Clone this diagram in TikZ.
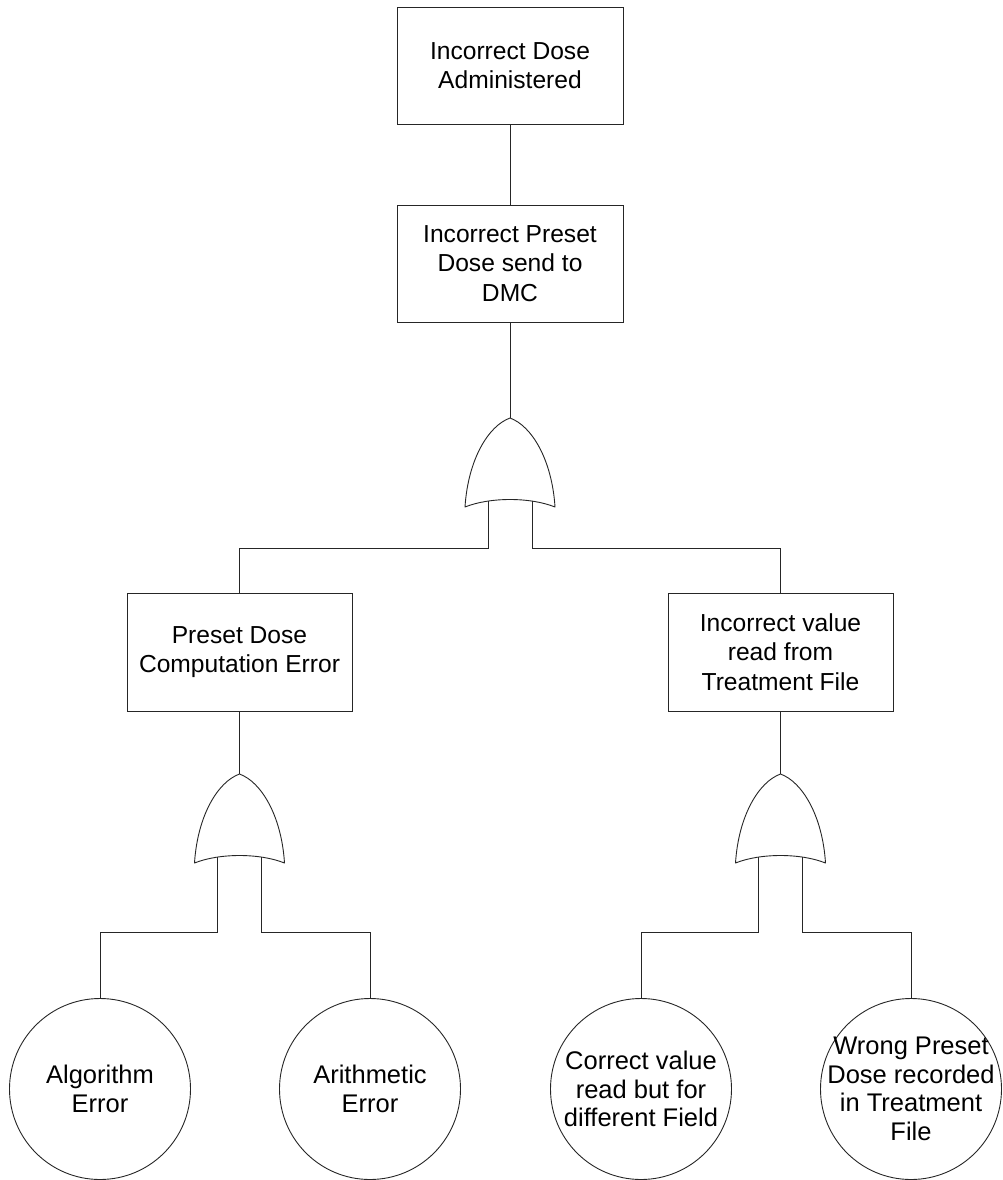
\documentclass[tikz,border=0pt]{standalone}
\usepackage{fontspec}
\setmainfont{Liberation Sans}
\begin{document}
\begin{tikzpicture}[x=1pt,y=-1pt,
  wire/.style={draw=black!85, line width=0.9pt},
  event/.style={draw=black!85, line width=0.9pt, rectangle, align=center,
    font=\fontsize{24.6}{29.5}\selectfont, inner sep=0pt},
  % negative inner sep keeps every circle at its minimum size,
  % so long labels may run over the outline
  basic/.style={draw=black!85, line width=0.9pt, circle, align=center,
    minimum size=181pt, inner sep=-20pt, font=\fontsize{25.5}{28.6}\selectfont},
  gate/.style={draw=black!85, line width=0.9pt, fill=white, line join=round},
  orgate/.pic={
    \draw[gate] (0,0) .. controls (-22,8) and (-42,42) .. (-45,89)
      .. controls (-20,79) and (20,79) .. (45,89)
      .. controls (42,42) and (22,8) .. (0,0) -- cycle;
    \coordinate (-top) at (0,0);
    \coordinate (-l) at (-22,83);
    \coordinate (-r) at (22,83);
  }]
\useasboundingbox (0,0) rectangle (1002,1180);

% events
\node[event, minimum width=226pt, minimum height=117pt] (top) at (510,65.5)
  {Incorrect Dose\\Administered};
\node[event, minimum width=226pt, minimum height=117pt] (send) at (510,263.5)
  {Incorrect Preset\\Dose send to\\DMC};
\node[event, minimum width=225pt, minimum height=118pt] (comp) at (239.5,652)
  {Preset Dose\\Computation Error};
\node[event, minimum width=225pt, minimum height=118pt] (read) at (780.5,652)
  {Incorrect value\\read from\\Treatment File};

% basic events
\node[basic] (algo) at (100,1089) {Algorithm\\Error};
\node[basic] (arith) at (370,1089) {Arithmetic\\Error};
\node[basic] (field) at (641,1089) {Correct value\\read but for\\different Field};
\node[basic] (rec) at (911,1089) {Wrong Preset\\Dose recorded\\in Treatment\\File};

% OR gates
\pic (g1) at (510,418) {orgate};
\pic (g2) at (239.5,774) {orgate};
\pic (g3) at (780.5,774) {orgate};

% branch levels
\coordinate (lvA) at (0,548);
\coordinate (lvB) at (0,932);

% connectors
\draw[wire] (top.south) -- (send.north);
\draw[wire] (send.south) -- (g1-top);
\draw[wire] (g1-l) -- (g1-l |- lvA) -| (comp.north);
\draw[wire] (g1-r) -- (g1-r |- lvA) -| (read.north);
\draw[wire] (comp.south) -- (g2-top);
\draw[wire] (read.south) -- (g3-top);
\draw[wire] (g2-l) -- (g2-l |- lvB) -| (algo.north);
\draw[wire] (g2-r) -- (g2-r |- lvB) -| (arith.north);
\draw[wire] (g3-l) -- (g3-l |- lvB) -| (field.north);
\draw[wire] (g3-r) -- (g3-r |- lvB) -| (rec.north);
\end{tikzpicture}
\end{document}
